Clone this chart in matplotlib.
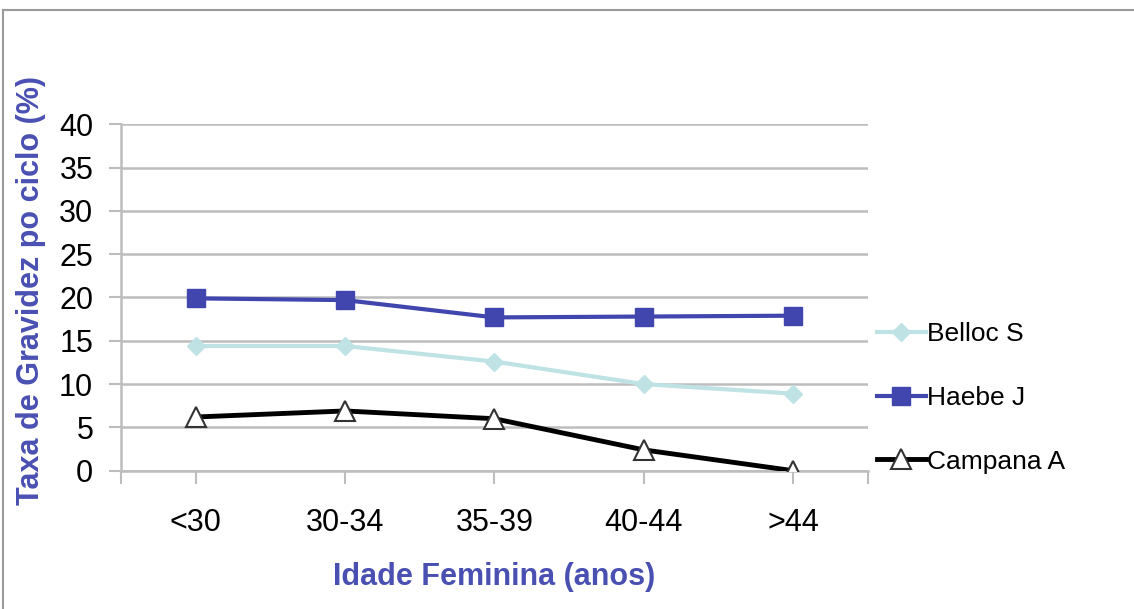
import matplotlib.pyplot as plt
from matplotlib.lines import Line2D

faixas = ["<30", "30-34", "35-39", "40-44", ">44"]
belloc = [14.4, 14.4, 12.6, 10.0, 8.9]
haebe = [19.9, 19.7, 17.7, 17.8, 17.9]
campana = [6.2, 6.9, 6.0, 2.4, 0.0]

azul = "#4146ae"
ciano = "#bfe3e4"
rotulo = "#4a50b2"
grade = "#bdbdbd"

plt.rcParams["font.family"] = "Liberation Sans"

fig = plt.figure(figsize=(11.34, 6.09), dpi=100)
ax = fig.add_axes([0.1067, 0.2271, 0.6587, 0.5688])

x = range(len(faixas))
ax.plot(x, belloc, color=ciano, lw=3, marker="D", ms=9, mfc=ciano, mec=ciano, label="Belloc S", zorder=3)
ax.plot(x, haebe, color=azul, lw=3, marker="s", ms=13, mfc=azul, mec=azul, label="Haebe J", zorder=4)
ax.plot(x, campana, color="black", lw=3.5, marker="^", ms=14, mfc="white", mec="#333333",
        mew=1.5, label="Campana A", zorder=5)

ax.set_xlim(-0.5, 4.5)
ax.set_ylim(0, 40)
ax.set_yticks(range(0, 41, 5))
ax.set_xticks(list(x))
ax.set_xticklabels(faixas)
ax.set_xticks([-0.5, 4.5], minor=True)

ax.grid(axis="y", color=grade, lw=1.8)
ax.set_axisbelow(True)
for s in ["top", "right"]:
    ax.spines[s].set_visible(False)
for s in ["left", "bottom"]:
    ax.spines[s].set_color(grade)
    ax.spines[s].set_linewidth(1.8)
ax.tick_params(axis="y", which="both", length=9, width=1.5, color=grade, pad=11, labelsize=22)
ax.tick_params(axis="x", which="both", length=9, width=1.5, color=grade, pad=18, labelsize=22)

ax.set_ylabel("Taxa de Gravidez po ciclo (%)", color=rotulo, fontsize=22, fontweight="bold")
ax.yaxis.set_label_coords(-0.101, 0.52)
ax.set_xlabel("Idade Feminina (anos)", color=rotulo, fontsize=22, fontweight="bold")
ax.xaxis.set_label_coords(0.5, -0.265)

leg = ax.legend(loc="center left", bbox_to_anchor=(1.012, 0.21), frameon=False,
                fontsize=19, handlelength=1.85, handletextpad=0.05, labelspacing=1.5,
                borderpad=0, borderaxespad=0)

# moldura cinza no topo e à esquerda
fig.add_artist(Line2D([0.003, 1.0], [0.984, 0.984], color="#9a9a9a", lw=1.5, transform=fig.transFigure))
fig.add_artist(Line2D([0.003, 0.003], [0.0, 0.984], color="#9a9a9a", lw=1.5, transform=fig.transFigure))

fig.savefig("out.png", dpi=100)
